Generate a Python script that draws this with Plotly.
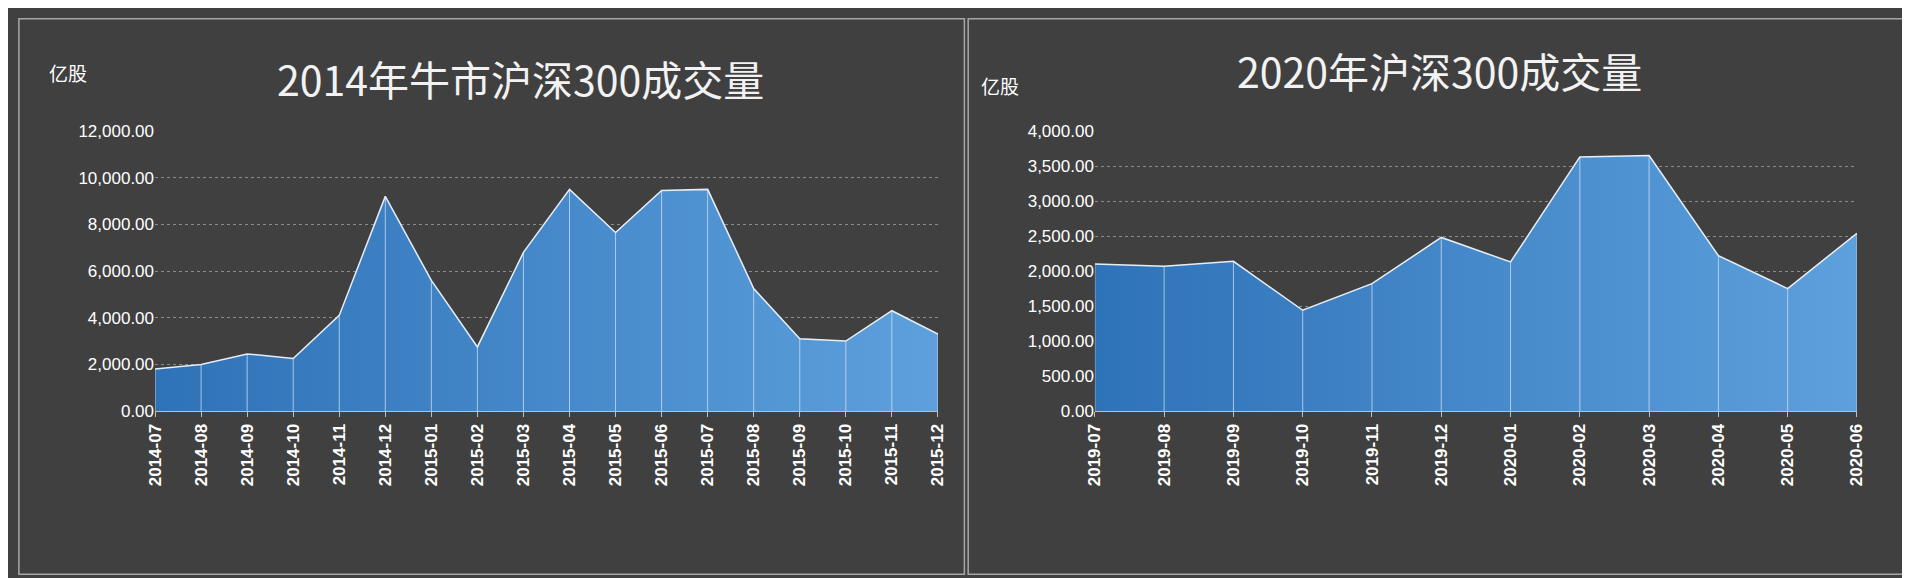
import plotly.graph_objects as go

left_months = ["2014-07","2014-08","2014-09","2014-10","2014-11","2014-12","2015-01","2015-02","2015-03",
               "2015-04","2015-05","2015-06","2015-07","2015-08","2015-09","2015-10","2015-11","2015-12"]
left_vals = [1800,2000,2450,2250,4100,9200,5600,2750,6800,9500,7650,9450,9500,5250,3100,3000,4300,3300]
right_months = ["2019-07","2019-08","2019-09","2019-10","2019-11","2019-12","2020-01","2020-02","2020-03",
                "2020-04","2020-05","2020-06"]
right_vals = [2100,2070,2140,1440,1820,2480,2130,3630,3650,2220,1750,2540]

fnt = "Noto Sans CJK SC"
fig = go.Figure()
for xs, ys, xa, ya in [(left_months, left_vals, "x", "y"), (right_months, right_vals, "x2", "y2")]:
    fig.add_trace(go.Scatter(
        x=xs, y=ys, xaxis=xa, yaxis=ya, mode="lines", fill="tozeroy",
        line=dict(color="#e8eef8", width=1.5),
        fillgradient=dict(type="horizontal", colorscale=[[0, "#2e72b8"], [1, "#5da0dc"]]),
        error_y=dict(type="data", symmetric=False, array=[0]*len(ys), arrayminus=ys,
                     color="rgba(220,230,245,0.7)", thickness=1, width=0),
        hoverinfo="x+y", showlegend=False))

xfont = dict(color="white", size=17, family="Liberation Sans", weight="bold")
axx = dict(type="category", tickangle=-90, tickfont=xfont,
           showgrid=False, showline=True, linecolor="#bfbfbf", ticks="outside", tickcolor="#bfbfbf",
           ticklen=5)
axy = dict(tickformat=",.2f", tickfont=dict(color="white", size=17, family="Liberation Sans"),
           gridcolor="#8c8c8c", griddash="dot", gridwidth=1, zeroline=False, showline=False)
ann = dict(xref="paper", yref="paper", showarrow=False, xanchor="center", yanchor="middle")
fig.update_layout(
    width=1910, height=578, paper_bgcolor="#404040", plot_bgcolor="#404040",
    margin=dict(l=0, r=0, t=0, b=0),
    xaxis=dict(axx, domain=[0.073, 0.487], range=[0, len(left_months)-1]),
    yaxis=dict(axy, domain=[0.295, 0.796], range=[0, 12000], dtick=2000),
    xaxis2=dict(axx, domain=[0.570, 0.973], anchor="y2", range=[0, len(right_months)-1]),
    yaxis2=dict(axy, domain=[0.295, 0.796], range=[0, 4000], dtick=500, anchor="x2"),
    annotations=[
        dict(ann, text="2014年牛市沪深300成交量", x=0.266, y=0.89, font=dict(size=41, color="#f2f2f2", family=fnt)),
        dict(ann, text="2020年沪深300成交量", x=0.752, y=0.905, font=dict(size=41, color="#f2f2f2", family=fnt)),
        dict(ann, text="亿股", x=0.027, y=0.9, font=dict(size=19, color="white", family=fnt)),
        dict(ann, text="亿股", x=0.52, y=0.878, font=dict(size=19, color="white", family=fnt)),
    ],
    shapes=[
        dict(type="rect", xref="paper", yref="paper", x0=0.001, x1=0.501, y0=0.003, y1=0.997,
             line=dict(color="#a6a6a6", width=1.5)),
        dict(type="rect", xref="paper", yref="paper", x0=0.503, x1=0.999, y0=0.003, y1=0.997,
             line=dict(color="#a6a6a6", width=1.5)),
    ],
)
fig.write_html("out.html")
